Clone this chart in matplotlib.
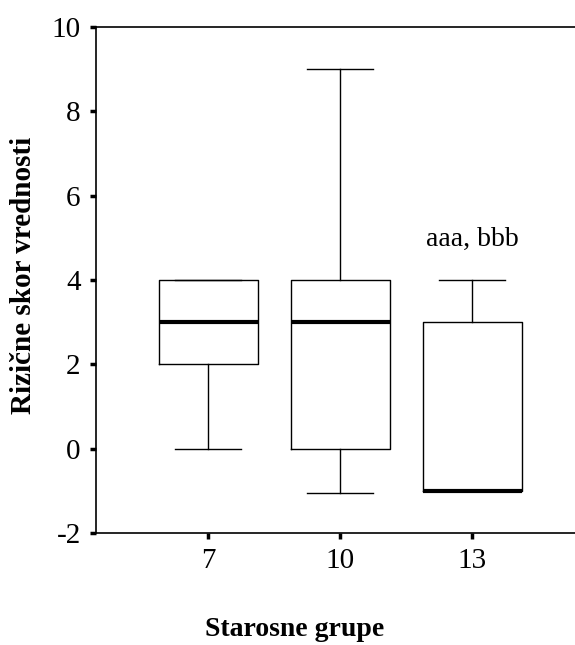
import numpy as np
from matplotlib import pyplot as plt

# age groups and box statistics
groups = ['7', '10', '13']
q1 = [2, 0, -1]
medians = [3, 3, -1]
q3 = [4, 4, 3]
whisker_low = [0, -1.05, -1]
whisker_high = [4, 9, 4]
note_text = 'aaa, bbb'
note_group = 2
note_y = 4.8

plt.rcParams['font.family'] = ['Liberation Serif', 'DejaVu Serif']
plt.rcParams['axes.unicode_minus'] = False

fig = plt.figure(figsize=(5.75, 6.45), dpi=100)
ax = fig.add_axes([96/575, 112/645, 1 - 96/575, (533 - 27)/645])

stats = []
for i in range(len(groups)):
    stats.append({'med': medians[i], 'q1': q1[i], 'q3': q3[i],
                  'whislo': whisker_low[i], 'whishi': whisker_high[i],
                  'fliers': [], 'label': groups[i]})

positions = np.arange(1, len(groups) + 1)
ax.bxp(stats, positions=positions, widths=0.75, capwidths=0.5,
       showfliers=False,
       boxprops=dict(color='black', linewidth=1.0),
       whiskerprops=dict(color='black', linewidth=1.0),
       capprops=dict(color='black', linewidth=1.0),
       medianprops=dict(color='black', linewidth=3.0, solid_capstyle='butt'))

# the annotation above the last group
ax.text(positions[note_group], note_y, note_text, ha='center', va='baseline', fontsize=20)

ax.set_xlim(0.15, 3.78)
ax.set_ylim(-2, 10)
ax.set_yticks(np.arange(-2, 11, 2))
ax.set_xticks(positions)
ax.set_xticklabels(groups)

ax.spines['right'].set_visible(False)
for s in ['left', 'bottom', 'top']:
    ax.spines[s].set_linewidth(1.2)
ax.tick_params(axis='both', direction='out', length=4, width=2.5, labelsize=21, pad=7)

fig.text(24/575, (645 - 275)/645, 'Rizične skor vrednosti', rotation=90,
         ha='center', va='center', fontsize=21, fontweight='bold')
fig.text(295/575, (645 - 630)/645, 'Starosne grupe', ha='center', va='center',
         fontsize=20, fontweight='bold')

plt.savefig('out.png', dpi=100)
